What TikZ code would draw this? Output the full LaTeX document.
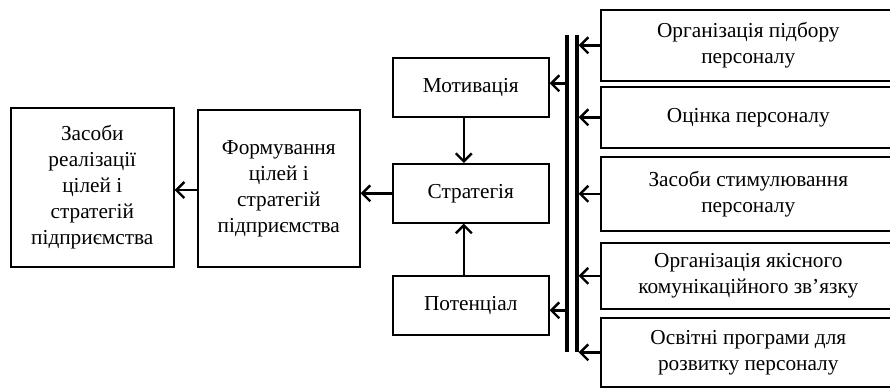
\documentclass[tikz,border=0pt]{standalone}
\usepackage{fontspec}
\setmainfont{Liberation Serif}
\usetikzlibrary{arrows.meta,calc}
\begin{document}
\begin{tikzpicture}[x=1pt,y=-1pt,
 box/.style={draw, line width=1.6pt, align=center, inner sep=0pt, anchor=north west,
   font=\fontsize{21.3}{26}\selectfont},
 arr/.style={line width=2.4pt, -{Straight Barb[length=8pt,width=16pt,line width=2.4pt]}},
 bar/.style={line width=3.2pt}]
\useasboundingbox (0,0) rectangle (890,389);
% left boxes
\node[box, minimum width=163, minimum height=159] (zas) at (10,107)
  {Засоби\\реалізації\\цілей і\\стратегій\\підприємства};
\node[box, minimum width=162, minimum height=157] (form) at (197,109)
  {Формування\\цілей і\\стратегій\\підприємства};
% middle boxes
\node[box, minimum width=156, minimum height=59] (mot) at (392,57) {Мотивація};
\node[box, minimum width=156, minimum height=59] (str) at (392,163) {Стратегія};
\node[box, minimum width=156, minimum height=59] (pot) at (392,275) {Потенціал};
% right boxes
\node[box, minimum width=295, minimum height=71] (b1) at (600,9)
  {Організація підбору\\персоналу};
\node[box, minimum width=295, minimum height=61] (b2) at (600,86)
  {Оцінка персоналу};
\node[box, minimum width=295, minimum height=74] (b3) at (600,156)
  {Засоби стимулювання\\персоналу};
\node[box, minimum width=295, minimum height=66] (b4) at (600,242)
  {Організація якісного\\комунікаційного зв’язку};
\node[box, minimum width=295, minimum height=69] (b5) at (600,317)
  {Освітні програми для\\розвитку персоналу};
% bars
\coordinate (lt) at (567,35);
\coordinate (lb) at (567,352);
\coordinate (rt) at (577,35);
\coordinate (rb) at (577,352);
\draw[bar] (lt) -- (lb);
\draw[bar] (rt) -- (rb);
% arrows from right boxes to right bar
\foreach \b in {b1,b2,b3,b4,b5}
  \draw[arr, shorten >=1.6pt] (\b.west) -- (\b.west -| rt);
% arrows from left bar to middle boxes
\coordinate (m) at ($(mot.east)+(0,-4)$);
\coordinate (p) at ($(pot.east)+(0,5)$);
\draw[arr, shorten <=1.6pt] (m -| lt) -- (m);
\draw[arr, shorten <=1.6pt] (p -| lt) -- (p);
% vertical arrows
\coordinate (ms) at ($(mot.south)+(-7,0)$);
\coordinate (ps) at ($(pot.north)+(-7,0)$);
\draw[arr] (ms) -- (ms |- str.north);
\draw[arr] (ps) -- (ps |- str.south);
% horizontal arrows to the left
\draw[arr] (str.west) -- (str.west -| form.east);
\draw[arr] (form.west |- 0,190) -- (zas.east |- 0,190);
\end{tikzpicture}
\end{document}
